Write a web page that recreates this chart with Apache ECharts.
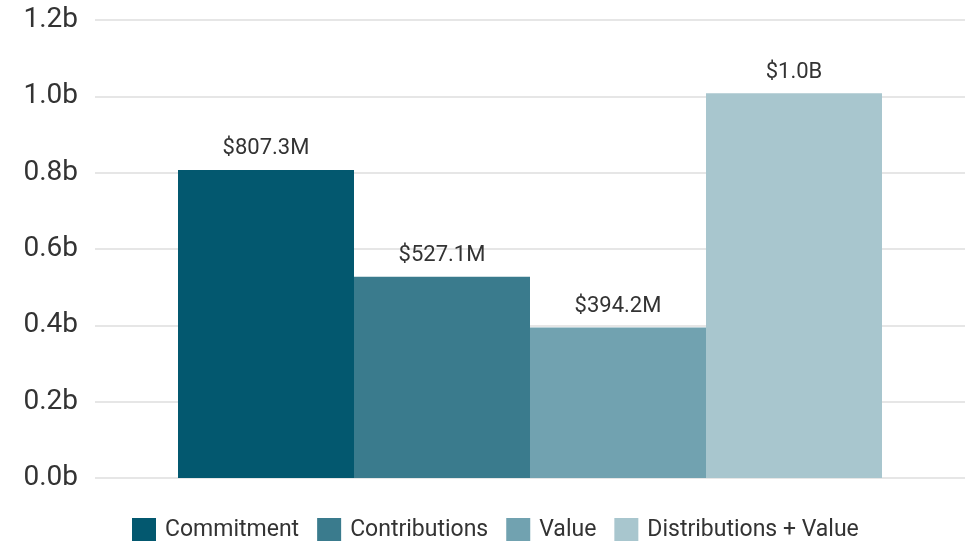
<!DOCTYPE html>
<html>
<head>
<meta charset="utf-8">
<script src="https://cdn.jsdelivr.net/npm/echarts@6/dist/echarts.min.js"></script>
<style>
  html, body { margin: 0; padding: 0; background: #fff; }
  #main { width: 968px; height: 541px; }
</style>
</head>
<body>
<div id="main"></div>
<script>
var myChart = echarts.init(document.getElementById('main'));

var names = ['Commitment', 'Contributions', 'Value', 'Distributions + Value'];
var values = [807.3e6, 527.1e6, 394.2e6, 1.008e9];
var colors = ['#03586f', '#3a7b8d', '#71a2b0', '#a8c6ce'];

function money(v) {
  if (v >= 1e9) return '$' + (v / 1e9).toFixed(1) + 'B';
  return '$' + (v / 1e6).toFixed(1) + 'M';
}

var series = names.map(function (n, i) {
  return {
    name: n,
    type: 'bar',
    data: [values[i]],
    barWidth: 176,
    barGap: '0%',
    itemStyle: { color: colors[i] },
    label: {
      show: true,
      position: 'top',
      distance: 10,
      color: '#333',
      fontFamily: 'Roboto',
      fontSize: 22,
      formatter: function (p) { return money(p.value); }
    }
  };
});

var option = {
  animation: false,
  grid: { left: 95, right: 3, top: 20, bottom: 63 },
  legend: {
    top: 518,
    left: 132,
    padding: 0,
    itemWidth: 24,
    itemHeight: 24,
    itemGap: 18,
    icon: 'rect',
    textStyle: { fontFamily: 'Roboto', fontSize: 23, color: '#333', padding: [0, 0, 0, 4] }
  },
  xAxis: {
    type: 'category',
    data: [''],
    axisLine: { show: false },
    axisTick: { show: false },
    axisLabel: { show: false }
  },
  yAxis: {
    type: 'value',
    min: 0,
    max: 1.2e9,
    interval: 0.2e9,
    axisLabel: {
      fontFamily: 'Roboto',
      fontSize: 28,
      color: '#333',
      margin: 17,
      formatter: function (v) { return (v / 1e9).toFixed(1) + 'b'; }
    },
    splitLine: { lineStyle: { color: '#e6e6e6', width: 2 } }
  },
  series: series
};
myChart.setOption(option);
</script>
</body>
</html>
